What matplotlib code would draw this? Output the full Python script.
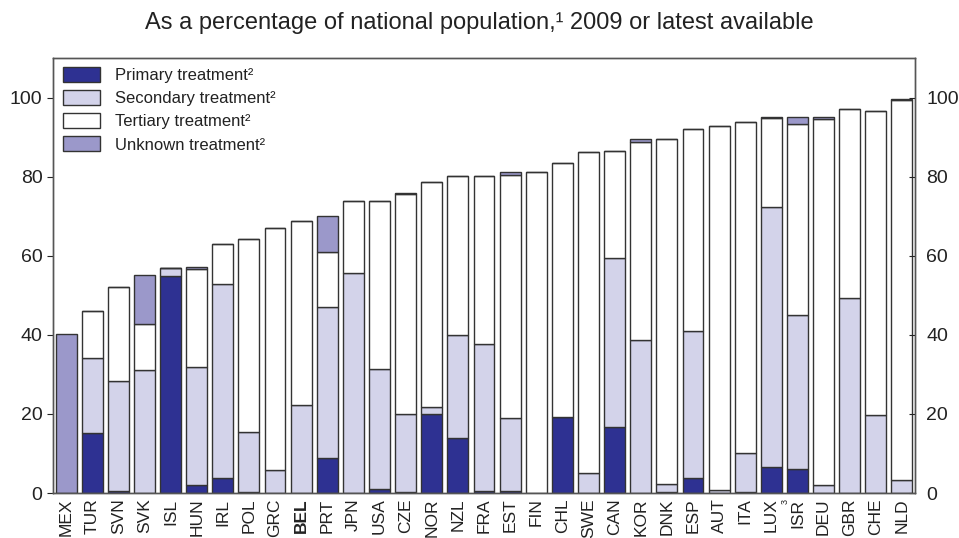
import matplotlib
matplotlib.use("Agg")
import matplotlib.pyplot as plt
import numpy as np

plt.rcParams['font.family'] = ['Liberation Sans', 'DejaVu Sans']

countries = ["MEX", "TUR", "SVN", "SVK", "ISL", "HUN", "IRL", "POL", "GRC", "BEL",
             "PRT", "JPN", "USA", "CZE", "NOR", "NZL", "FRA", "EST", "FIN", "CHL",
             "SWE", "CAN", "KOR", "DNK", "ESP", "AUT", "ITA", "LUX", "ISR", "DEU",
             "GBR", "CHE", "NLD"]
primary = [0, 15.2, 0.4, 0, 54.8, 2.1, 3.8, 0.2, 0, 0,
           8.9, 0, 1.1, 0.3, 20.1, 14.0, 0.6, 0.4, 0, 19.1,
           0, 16.8, 0, 0.3, 3.8, 0, 0.2, 6.5, 6.1, 0.1,
           0, 0, 0]
secondary = [0, 19.0, 27.8, 31.1, 2.1, 29.7, 49.1, 15.3, 5.9, 22.2,
             38.1, 55.7, 30.3, 19.6, 1.7, 26.0, 37.0, 18.5, 0, 0,
             5.0, 42.7, 38.6, 2.0, 37.2, 0.8, 9.8, 65.9, 38.9, 1.9,
             49.2, 19.6, 3.3]
tertiary = [0, 11.8, 23.9, 11.6, 0, 24.9, 10.0, 48.7, 61.1, 46.7,
            14.0, 18.1, 42.4, 55.6, 56.9, 40.2, 42.6, 61.4, 81.2, 64.4,
            81.2, 27.0, 50.2, 87.3, 51.1, 92.0, 83.9, 22.4, 48.3, 92.5,
            47.9, 77.1, 96.1]
unknown = [40.1, 0, 0, 12.5, 0, 0.5, 0, 0, 0, 0,
           9.0, 0, 0, 0.3, 0, 0, 0, 0.9, 0, 0,
           0, 0, 0.6, 0, 0, 0, 0, 0.2, 1.7, 0.7,
           0, 0, 0.2]
series_names = ["Primary treatment\u00b2", "Secondary treatment\u00b2",
                "Tertiary treatment\u00b2", "Unknown treatment\u00b2"]
yticks = [0, 20, 40, 60, 80, 100]
title = "As a percentage of national population,\u00b9 2009 or latest available"

colors = ["#2E3192", "#D3D3EA", "#FFFFFF", "#9B98CA"]

fig = plt.figure(figsize=(9.59, 5.38), dpi=100)
ax = fig.add_axes([53/959, 45/538, 862/959, 435/538])

x = np.arange(len(countries))
bottom = np.zeros(len(countries))
for vals, col, name in zip([primary, secondary, tertiary, unknown], colors, series_names):
    v = np.array(vals, dtype=float)
    ax.bar(x, v, 0.8, bottom=bottom, color=col, edgecolor="#333333",
           linewidth=1.0, label=name)
    bottom += v

ax.set_xlim(-0.5, len(countries) - 0.5)
ax.set_ylim(0, 110)
ax.set_yticks(yticks)
ax.tick_params(axis='y', direction='out', length=4, labelsize=14, colors='#222222',
               width=0.8)
ax.set_xticks(x)
ax.set_xticklabels(countries, rotation=90, fontsize=12.5, color='#222222')
ax.tick_params(axis='x', length=0, pad=4)
for lbl in ax.get_xticklabels():
    if lbl.get_text() == "BEL":
        lbl.set_fontweight('bold')

ax2 = ax.twinx()
ax2.set_ylim(0, 110)
ax2.set_yticks(yticks)
ax2.tick_params(axis='y', direction='in', length=4, labelsize=14, colors='#222222',
                width=0.8, pad=8)

for a in (ax, ax2):
    for s in a.spines.values():
        s.set_color('#555555')
        s.set_linewidth(1.0)

# footnote marker
ax.text(27.52, -1.6, "3", rotation=90, fontsize=6.5, ha='center', va='top',
        color='#222222', transform=ax.transData)

leg = ax.legend(loc='upper left', bbox_to_anchor=(10/862, 1 - 9/435),
                frameon=False, fontsize=12, handlelength=2.2, handleheight=1.0,
                labelspacing=0.42, handletextpad=0.9, borderaxespad=0, borderpad=0)
for t in leg.get_texts():
    t.set_color('#222222')

fig.text(0.5, 1 - 23/538, title, ha='center', va='center', fontsize=17,
         color='#222222')

fig.savefig("out.png", dpi=100)
